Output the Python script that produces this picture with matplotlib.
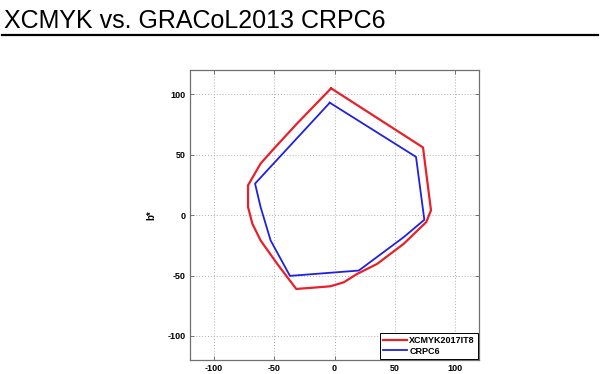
import matplotlib
matplotlib.use("Agg")
import matplotlib.pyplot as plt
from matplotlib.lines import Line2D

title = "XCMYK vs. GRACoL2013 CRPC6"
ylabel = "b*"
ticks = [-100, -50, 0, 50, 100]
series_names = ["XCMYK2017IT8", "CRPC6"]

xcmyk_a = [-2.8, 73.3, 79.9, 76.0, 57.3, 35.3, 18.7, 7.7, -3.3, -14.3, -31.7,
           -47.4, -61.2, -68.0, -71.6, -71.6, -61.2, -50.1, -30.9, -2.8]
xcmyk_b = [104.8, 55.9, 3.9, -5.8, -23.8, -40.4, -48.7, -55.6, -58.9, -59.8, -61.1,
           -40.4, -21.0, -7.2, 6.6, 24.6, 42.6, 55.0, 75.8, 104.8]

crpc6_a = [-3.9, 67.5, 74.4, 57.3, 20.1, -36.9, -52.9, -61.2, -65.8, -3.9]
crpc6_b = [92.9, 48.1, -3.9, -18.3, -45.9, -50.3, -21.0, 6.6, 26.0, 92.9]

plt.rcParams['font.family'] = ['Liberation Sans', 'DejaVu Sans']

fig = plt.figure(figsize=(6.0, 3.74), dpi=100)
fig.text(0.006, 0.925, title, fontsize=18, ha='left', va='baseline', color='black')
fig.add_artist(Line2D([0.004, 0.997], [0.906, 0.906], color='black', lw=1.6,
                      transform=fig.transFigure))

ax = fig.add_axes([0.316, 0.037, 0.483, 0.776])
ax.plot(xcmyk_a, xcmyk_b, color='#e8202a', lw=1.6, label=series_names[0])
ax.plot(crpc6_a, crpc6_b, color='#2020e0', lw=1.3, label=series_names[1])
ax.set_xlim(-120, 120)
ax.set_ylim(-120, 120)
ax.set_xticks(ticks)
ax.set_yticks(ticks)
ax.set_xticklabels([str(t) for t in ticks], fontsize=6.5, fontweight='bold')
ax.set_yticklabels([str(t) for t in ticks], fontsize=6.5, fontweight='bold')
ax.set_ylabel(ylabel, fontsize=7, fontweight='bold', labelpad=8)
ax.grid(True, linestyle=(0, (1, 2)), color='#b0b0b0', lw=0.7)
ax.tick_params(direction='in', length=3, width=0.6, color='#606060',
               top=True, right=True, pad=3)
for s in ax.spines.values():
    s.set_color('#707070')
    s.set_linewidth(0.9)
leg = ax.legend(loc='lower right', prop={'weight': 'bold', 'size': 6.5},
                fancybox=False, framealpha=1, edgecolor='black', borderpad=0.35,
                handlelength=2.6, handletextpad=0.3, labelspacing=0.2,
                borderaxespad=0.15)
leg.get_frame().set_linewidth(0.7)
fig.savefig("out.png", dpi=100)
